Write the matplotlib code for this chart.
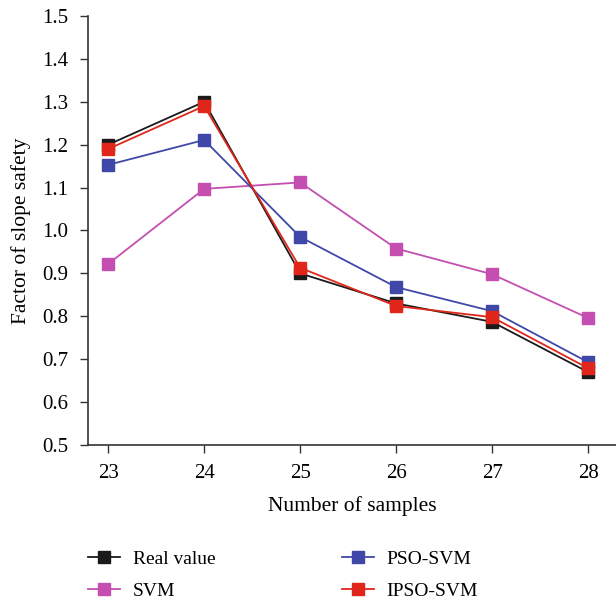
import matplotlib
matplotlib.use("Agg")
import matplotlib.pyplot as plt

plt.rcParams['font.family'] = ['Liberation Serif', 'DejaVu Serif']

samples = [23, 24, 25, 26, 27, 28]
real_value = [1.20, 1.30, 0.90, 0.83, 0.787, 0.67]
svm = [0.922, 1.097, 1.112, 0.958, 0.898, 0.796]
pso_svm = [1.153, 1.211, 0.985, 0.868, 0.812, 0.693]
ipso_svm = [1.19, 1.29, 0.913, 0.824, 0.798, 0.679]

series = [
    ("Real value", real_value, "#1a1a1a"),
    ("SVM", svm, "#c44fb0"),
    ("PSO-SVM", pso_svm, "#3f48a8"),
    ("IPSO-SVM", ipso_svm, "#e0261b"),
]

fig = plt.figure(figsize=(6.16, 6.03), dpi=100)
ax = fig.add_axes([0.1429, 0.262, 0.857, 0.7115])

for name, vals, col in series:
    ax.plot(samples, vals, color=col, lw=1.3, marker='s', ms=8,
            mec=col, mfc=col, label=name)

ax.set_xlim(22.79, 28.29)
ax.set_ylim(0.5, 1.5)
ax.set_xticks(samples)
ax.set_yticks([0.5 + 0.1 * i for i in range(11)])
ax.set_yticklabels([f"{0.5 + 0.1 * i:.1f}" for i in range(11)])
ax.spines['top'].set_visible(False)
ax.spines['right'].set_visible(False)
for s in ('left', 'bottom'):
    ax.spines[s].set_color('#333333')
    ax.spines[s].set_linewidth(1.2)
ax.tick_params(labelsize=15, length=6, width=1, color='#333333', pad=8)
ax.set_xlabel("Number of samples", fontsize=15.5, labelpad=9)
ax.set_ylabel("Factor of slope safety", fontsize=15.5, labelpad=8)

# legend order: column 1 = Real value, SVM; column 2 = PSO-SVM, IPSO-SVM
fig.legend(loc='upper left', bbox_to_anchor=(0.1429, 0.087),
           bbox_transform=fig.transFigure, ncol=2, frameon=False,
           fontsize=14, handlelength=1.65, handletextpad=0.65,
           columnspacing=6.5, labelspacing=0.72, borderpad=0,
           borderaxespad=0)

fig.savefig("out.png", dpi=100)
